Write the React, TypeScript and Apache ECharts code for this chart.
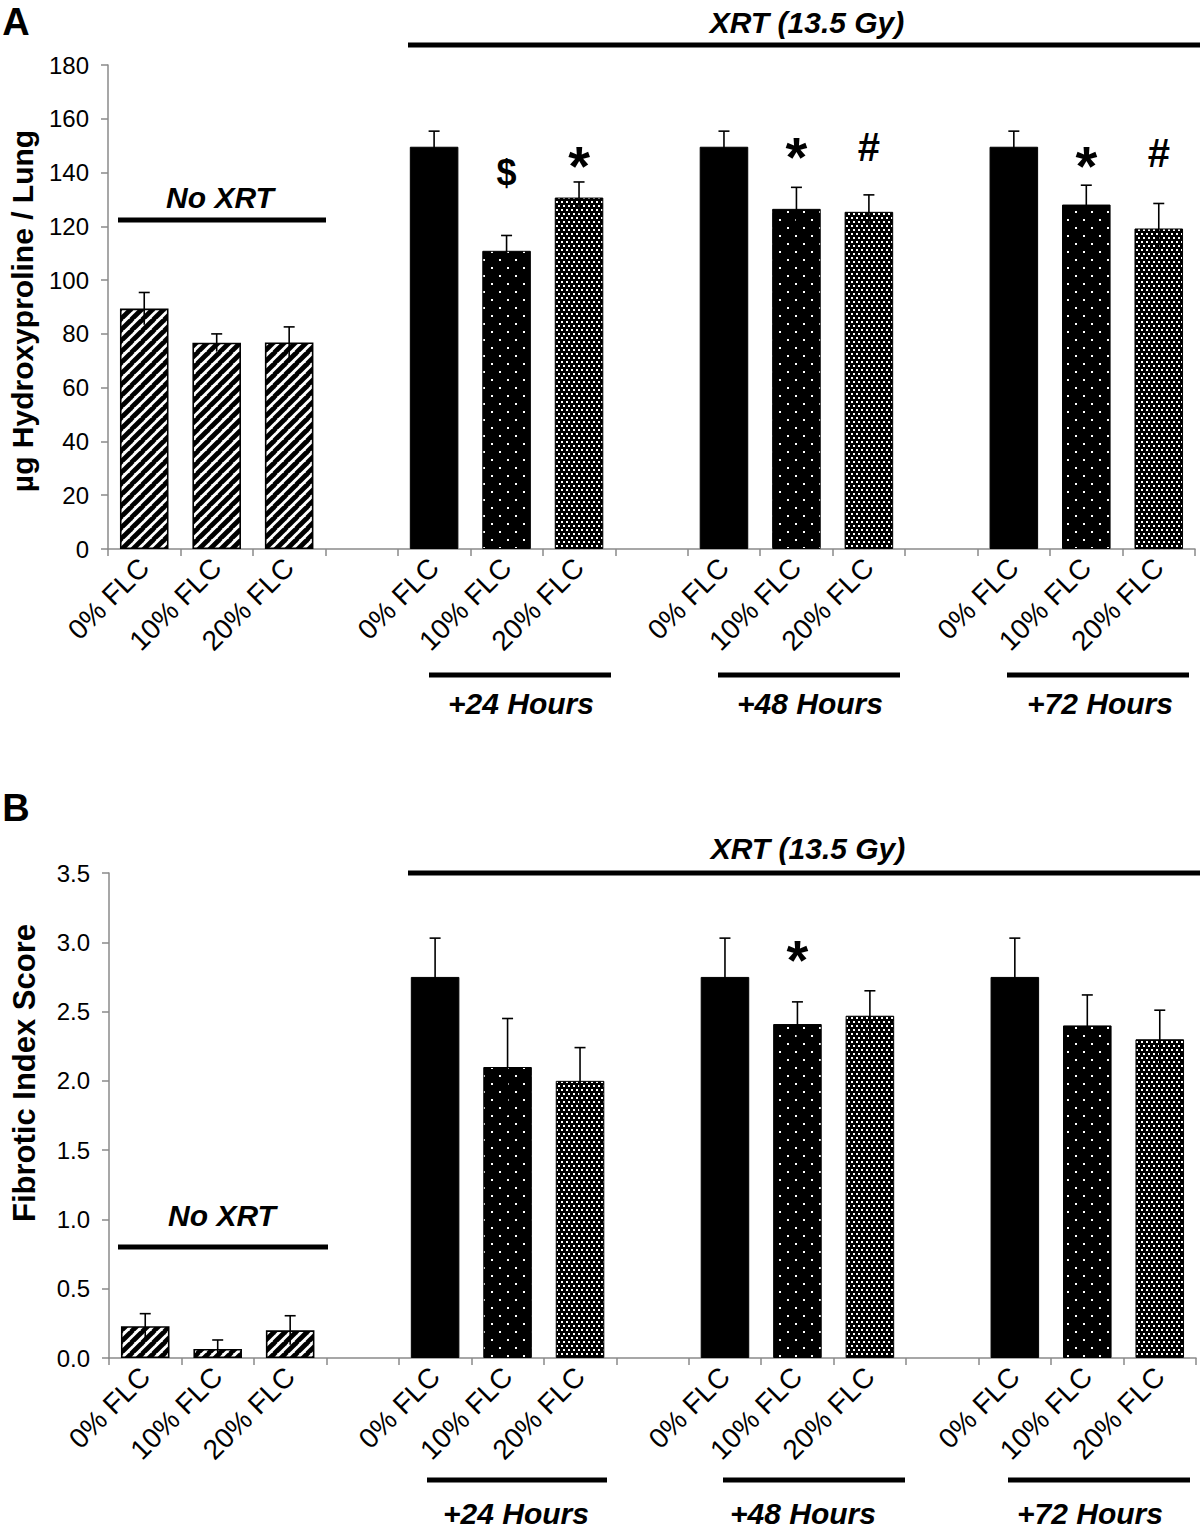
import React, { useEffect, useRef } from "react";
import * as echarts from "echarts";

// ---------- data ----------
const flcLabels = ["0% FLC", "10% FLC", "20% FLC"];
const groupNames = ["No XRT", "+24 Hours", "+48 Hours", "+72 Hours"];

// Panel A: µg hydroxyproline / lung
const hypNoXrt = [89.4, 76.7, 76.8];
const hypNoXrtErr = [6.0, 3.3, 5.8];
const hyp24 = [149.6, 110.9, 130.7];
const hyp24Err = [5.8, 5.7, 5.8];
const hyp48 = [149.6, 126.5, 125.4];
const hyp48Err = [5.8, 8.0, 6.3];
const hyp72 = [149.6, 128.1, 119.2];
const hyp72Err = [5.8, 7.2, 9.3];

// Panel B: fibrotic index score
const fibNoXrt = [0.23, 0.065, 0.2];
const fibNoXrtErr = [0.09, 0.065, 0.105];
const fib24 = [2.75, 2.1, 2.0];
const fib24Err = [0.28, 0.35, 0.24];
const fib48 = [2.75, 2.41, 2.47];
const fib48Err = [0.28, 0.16, 0.18];
const fib72 = [2.75, 2.4, 2.3];
const fib72Err = [0.28, 0.22, 0.21];

// significance markers: [slot index, symbol, height in data units]
const markersA: [number, string, number][] = [
  [5, "$", 140],
  [6, "*", 142.8],
  [9, "*", 146.1],
  [10, "#", 149.4],
  [13, "*", 142.8],
  [14, "#", 147.2],
];
const markersB: [number, string, number][] = [[9, "*", 2.875]];

// ---------- patterns ----------
function makeTile(w: number, h: number, draw: (c: CanvasRenderingContext2D) => void) {
  const cv = document.createElement("canvas");
  cv.width = w;
  cv.height = h;
  const ctx = cv.getContext("2d")!;
  draw(ctx);
  return cv;
}
const stripeTile = makeTile(11, 11, (c) => {
  c.fillStyle = "#fff";
  c.fillRect(0, 0, 11, 11);
  c.strokeStyle = "#000";
  c.lineWidth = 4.8;
  for (const o of [-11, 0, 11]) {
    c.beginPath();
    c.moveTo(o - 1, 12);
    c.lineTo(o + 12, -1);
    c.stroke();
  }
});
const sparseDots = makeTile(16, 16, (c) => {
  c.fillStyle = "#000";
  c.fillRect(0, 0, 16, 16);
  c.fillStyle = "#fff";
  c.fillRect(3, 3, 2, 2);
  c.fillRect(11, 11, 2, 2);
});
const denseDots = makeTile(10, 8, (c) => {
  c.fillStyle = "#000";
  c.fillRect(0, 0, 10, 8);
  c.fillStyle = "#fff";
  c.fillRect(1, 1, 2, 2);
  c.fillRect(6, 1, 2, 2);
  c.fillRect(3, 5, 2, 2);
  c.fillRect(8, 5, 2, 2);
});

const FONT = "'Liberation Sans', Arial, Helvetica, sans-serif";

function buildSlots(groups: number[][], errs: number[][]) {
  const cats: string[] = [];
  const bars: any[] = [];
  const errData: any[] = [];
  groups.forEach((g, gi) => {
    if (gi > 0) {
      cats.push("");
      bars.push("-");
    }
    g.forEach((v, i) => {
      const idx = cats.length;
      cats.push(flcLabels[i]);
      let style: any;
      if (gi === 0) {
        style = { color: { image: stripeTile, repeat: "repeat" }, borderColor: "#000", borderWidth: 1.6 };
      } else if (i === 0) {
        style = { color: "#000", borderColor: "#000", borderWidth: 1 };
      } else if (i === 1) {
        style = { color: { image: sparseDots, repeat: "repeat" }, borderColor: "#000", borderWidth: 1 };
      } else {
        style = { color: { image: denseDots, repeat: "repeat" }, borderColor: "#000", borderWidth: 1 };
      }
      bars.push({ value: v, itemStyle: style });
      errData.push([idx, v, errs[gi][i]]);
    });
  });
  return { cats, bars, errData };
}

const slotsA = buildSlots([hypNoXrt, hyp24, hyp48, hyp72], [hypNoXrtErr, hyp24Err, hyp48Err, hyp72Err]);
const slotsB = buildSlots([fibNoXrt, fib24, fib48, fib72], [fibNoXrtErr, fib24Err, fib48Err, fib72Err]);

const errRender = (params: any, api: any) => {
  const x = api.value(0);
  const v = api.value(1);
  const e = api.value(2);
  const top = api.coord([x, v + e]);
  const bot = api.coord([x, v - e]);
  const hw = 5.5;
  return {
    type: "group",
    children: [
      { type: "line", shape: { x1: top[0], y1: top[1], x2: bot[0], y2: bot[1] }, style: { stroke: "#000", lineWidth: 1.6 } },
      { type: "line", shape: { x1: top[0] - hw, y1: top[1], x2: top[0] + hw, y2: top[1] }, style: { stroke: "#000", lineWidth: 1.6 } },
    ],
  };
};

const makeMarkRender = (marks: [number, string, number][]) => (params: any, api: any) => {
  const m = marks[params.dataIndex];
  const p = api.coord([m[0], m[2]]);
  const size = m[1] === "*" ? 56 : m[1] === "#" ? 40 : 36;
  return {
    type: "text",
    x: p[0],
    y: p[1],
    style: {
      text: m[1],
      fill: "#000",
      font: `bold ${size}px ${FONT}`,
      align: "center",
      verticalAlign: "middle",
    },
  };
};

const axisGray = "#8a8a8a";

function xAxisCfg(cats: string[], gridIndex: number) {
  return {
    type: "category",
    gridIndex,
    data: cats,
    axisLine: { lineStyle: { color: axisGray, width: 1.5 } },
    axisTick: { show: true, length: 7, lineStyle: { color: axisGray, width: 1.5 }, interval: 0 },
    axisLabel: { interval: 0, rotate: 45, margin: 14, color: "#000", fontSize: 28, fontFamily: FONT },
  };
}
function yAxisCfg(gridIndex: number, max: number, interval: number, dec: number) {
  return {
    type: "value",
    gridIndex,
    min: 0,
    max,
    interval,
    splitLine: { show: false },
    axisLine: { show: true, lineStyle: { color: axisGray, width: 1.5 } },
    axisTick: { show: true, length: 7, lineStyle: { color: axisGray, width: 1.5 } },
    axisLabel: {
      color: "#000",
      fontSize: 24,
      fontFamily: FONT,
      margin: 19,
      formatter: (v: number) => v.toFixed(dec),
    },
  };
}

function txt(text: string, x: number, y: number, size: number, italic = false, rotation = 0) {
  return {
    type: "text",
    x,
    y,
    rotation,
    style: {
      text,
      fill: "#000",
      font: `${italic ? "italic " : ""}bold ${size}px ${FONT}`,
      align: "center",
      verticalAlign: "middle",
    },
  };
}
function hline(x1: number, x2: number, y: number) {
  return { type: "line", shape: { x1, y1: y, x2, y2: y }, style: { stroke: "#000", lineWidth: 5 } };
}

export default function App() {
  const ref = useRef<HTMLDivElement>(null);
  useEffect(() => {
    const chart = echarts.init(ref.current!, null, { renderer: "svg" });
    const barCommon = { type: "bar", barWidth: "67%", silent: true };
    chart.setOption({
      animation: false,
      backgroundColor: "#fff",
      grid: [
        { left: 108, top: 65, width: 1087, height: 484 },
        { left: 109, top: 873, width: 1087, height: 485 },
      ],
      xAxis: [xAxisCfg(slotsA.cats, 0), xAxisCfg(slotsB.cats, 1)],
      yAxis: [yAxisCfg(0, 180, 20, 0), yAxisCfg(1, 3.5, 0.5, 1)],
      series: [
        { ...barCommon, xAxisIndex: 0, yAxisIndex: 0, data: slotsA.bars },
        { ...barCommon, xAxisIndex: 1, yAxisIndex: 1, data: slotsB.bars },
        { type: "custom", xAxisIndex: 0, yAxisIndex: 0, z: 5, renderItem: errRender, data: slotsA.errData },
        { type: "custom", xAxisIndex: 1, yAxisIndex: 1, z: 5, renderItem: errRender, data: slotsB.errData },
        {
          type: "custom", xAxisIndex: 0, yAxisIndex: 0, z: 6,
          renderItem: makeMarkRender(markersA),
          data: markersA.map((m) => [m[0], m[2]]),
        },
        {
          type: "custom", xAxisIndex: 1, yAxisIndex: 1, z: 6,
          renderItem: makeMarkRender(markersB),
          data: markersB.map((m) => [m[0], m[2]]),
        },
      ],
      graphic: [
        txt("A", 16, 22, 38),
        txt("B", 16, 808, 38),
        txt("µg Hydroxyproline / Lung", 22, 311, 30, false, Math.PI / 2),
        txt("Fibrotic Index Score", 24, 1073, 31, false, Math.PI / 2),
        // panel A annotations
        txt("XRT (13.5 Gy)", 807, 22, 30, true),
        hline(408, 1200, 45),
        txt(groupNames[0], 220, 197, 30, true),
        hline(118, 326, 220),
        hline(429, 611, 675),
        txt(groupNames[1], 521, 703, 30, true),
        hline(718, 900, 675),
        txt(groupNames[2], 810, 703, 30, true),
        hline(1007, 1189, 675),
        txt(groupNames[3], 1100, 703, 30, true),
        // panel B annotations
        txt("XRT (13.5 Gy)", 808, 848, 30, true),
        hline(408, 1200, 873),
        txt(groupNames[0], 222, 1215, 30, true),
        hline(118, 328, 1247),
        hline(427, 607, 1480),
        txt(groupNames[1], 516, 1513, 30, true),
        hline(723, 905, 1480),
        txt(groupNames[2], 803, 1513, 30, true),
        hline(1008, 1190, 1480),
        txt(groupNames[3], 1090, 1513, 30, true),
      ],
    });
    return () => chart.dispose();
  }, []);
  return (
    <div
      ref={ref}
      style={{ position: "absolute", left: 0, top: 0, width: 1200, height: 1532, background: "#fff" }}
    />
  );
}
